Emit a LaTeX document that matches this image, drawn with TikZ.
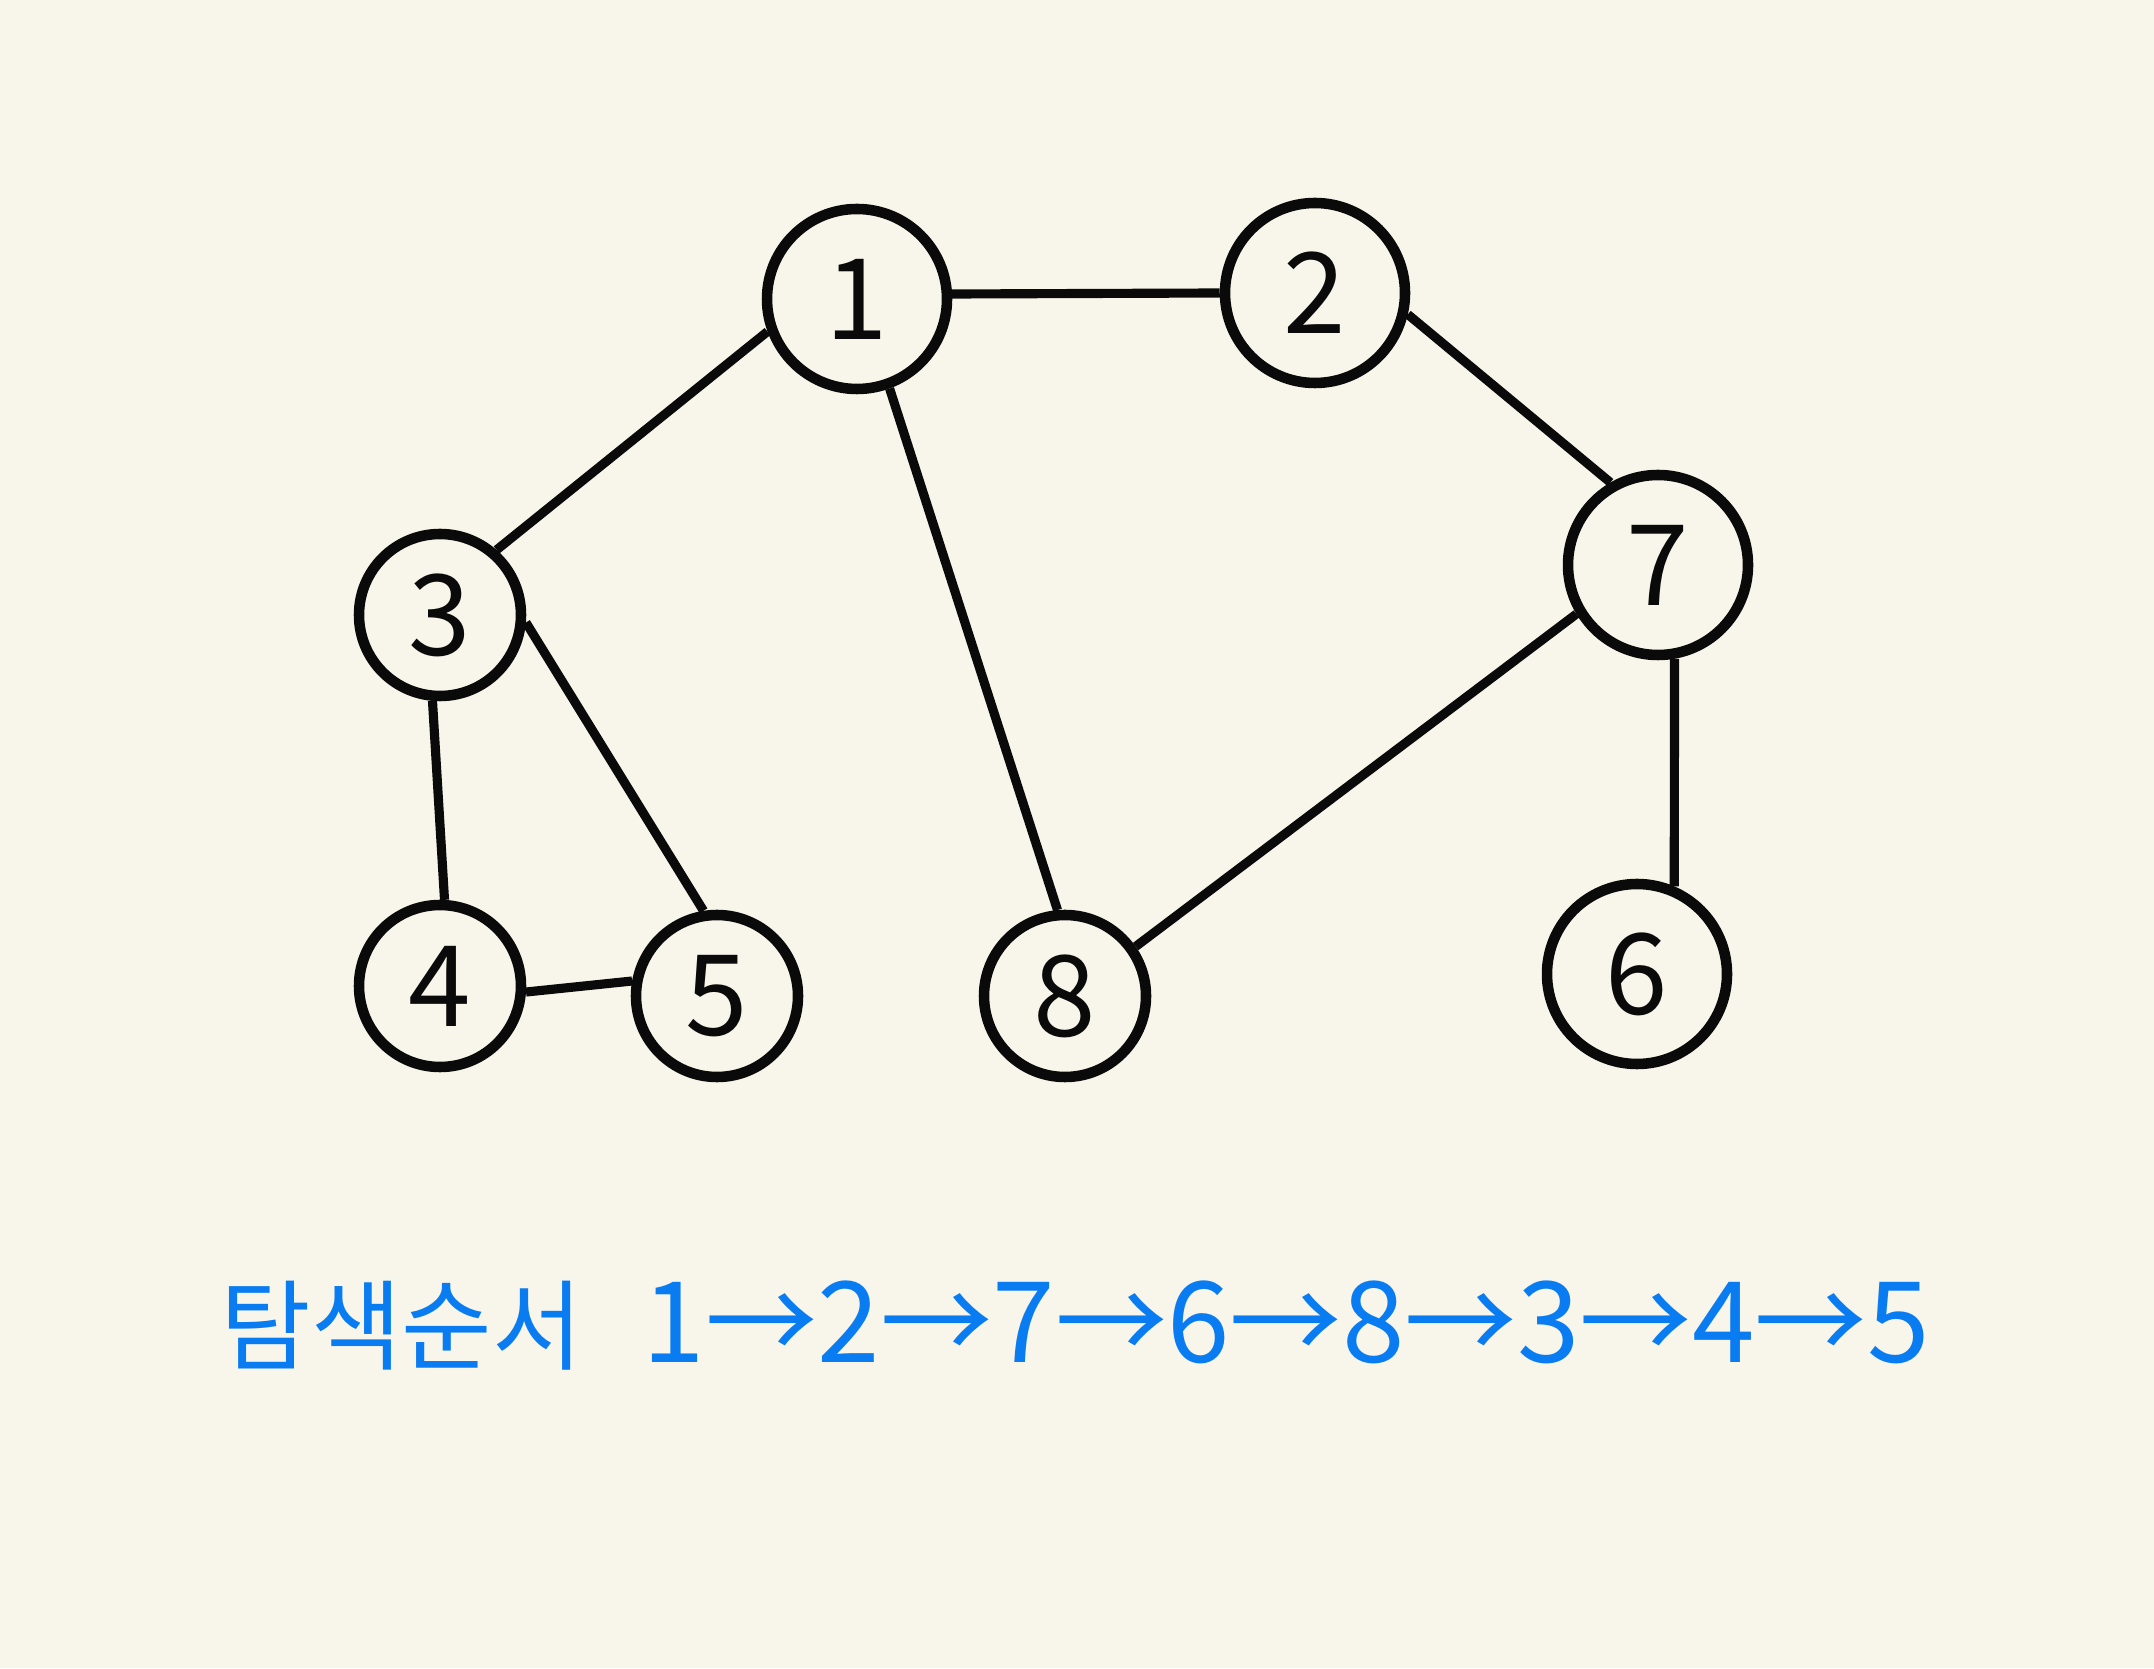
\documentclass[tikz,border=0pt]{standalone}
\usepackage{fontspec}
\newfontfamily\korfont{Noto Sans CJK KR}
\usetikzlibrary{positioning}
\definecolor{Canvas}{HTML}{F8F6EA}
\definecolor{Ink}{HTML}{0A0A0A}
\definecolor{Pen}{HTML}{0A7CF2}

\begin{document}
\begin{tikzpicture}[
  vertex/.style={
    circle,
    draw=Ink,
    line width=3pt,
    inner sep=0pt,
    text=Ink,
    font=\korfont\fontsize{32}{32}\selectfont
  },
  big/.style={minimum size=1.8cm},
  small/.style={minimum size=1.62cm},
  edge/.style={
    draw=Ink,
    line width=2.6pt
  },
  order/.style={
    text=Pen,
    anchor=west,
    inner sep=0pt,
    font=\korfont\fontsize{32}{32}\selectfont
  }
]

\fill[Canvas] (0,0) rectangle (21.54,16.68);
\useasboundingbox (0,0) rectangle (21.54,16.68);

% vertices
\node[vertex, big]   (v1) at (8.57,13.69) {1};
\node[vertex, big]   (v2) at (13.15,13.75) {2};
\node[vertex, small] (v3) at (4.40,10.53) {3};
\node[vertex, big]   (v7) at (16.58,11.03) {7};
\node[vertex, small] (v4) at (4.40,6.82) {4};
\node[vertex, small] (v5) at (7.17,6.72) {5};
\node[vertex, small] (v8) at (10.65,6.72) {8};
\node[vertex, big]   (v6) at (16.37,6.94) {6};

% edges
\draw[edge] (v1.3) -- (v2.180);
\draw[edge] (v1.200) -- (v3.49);
\draw[edge] (v1.-70) -- (v8.95);
\draw[edge] (v2.-13) -- (v7.120);
\draw[edge] (v7.211) -- (v8.35);
\draw[edge] (v7.-80) -- (v6.67);
\draw[edge] (v3.265) -- (v4.87);
\draw[edge] (v3.-5) -- (v5.99);
\draw[edge] (v4.-4) -- (v5.170);

% visiting order
\node[order] (seq) at (2.2,3.42)
  {{\fontsize{28}{28}\selectfont 탐색순서}\hspace{0.6cm}1→2→7→6→8→3→4→5};

\end{tikzpicture}
\end{document}
